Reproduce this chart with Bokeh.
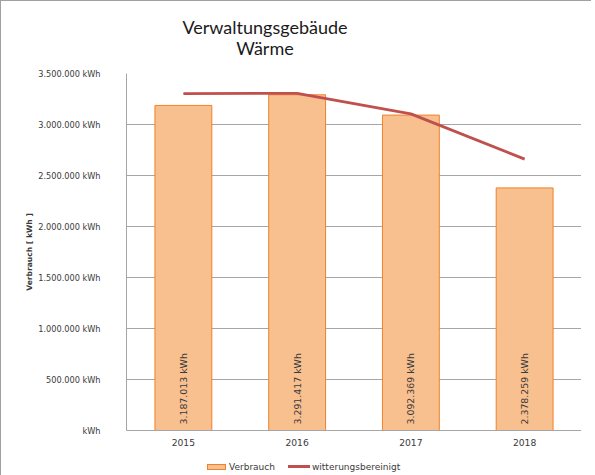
from bokeh.plotting import figure
from bokeh.models import ColumnDataSource, FixedTicker, Div
from bokeh.layouts import column
from bokeh.core.properties import value
from bokeh.embed import file_html
from bokeh.resources import INLINE
import math

title_lines = ["Verwaltungsgebäude", "Wärme"]
years = ["2015", "2016", "2017", "2018"]
verbrauch = [3187013, 3291417, 3092369, 2378259]
witterungsbereinigt = [3303000, 3306000, 3104000, 2661000]
bar_labels = ["3.187.013 kWh", "3.291.417 kWh", "3.092.369 kWh", "2.378.259 kWh"]
y_ticks = [0, 500000, 1000000, 1500000, 2000000, 2500000, 3000000, 3500000]
y_tick_labels = ["kWh", "500.000 kWh", "1.000.000 kWh", "1.500.000 kWh",
                 "2.000.000 kWh", "2.500.000 kWh", "3.000.000 kWh", "3.500.000 kWh"]
series_names = ["Verbrauch", "witterungsbereinigt"]

FONT = "DejaVu Sans"
TXT = "#3a3a3a"
BAR_FILL = "#F8BF8F"
BAR_LINE = "#F0822A"
LINE_COL = "#C0504D"
GRID = "#a6a6a6"

src = ColumnDataSource(dict(x=years, v=verbrauch, w=witterungsbereinigt, lab=bar_labels))

# title block
title_div = Div(
    text=("<div style=\"width:518px;text-align:center;font-family:Lato,sans-serif;"
          "font-size:18px;line-height:21px;color:#1a1a1a;padding-top:11px;\">"
          + "<br>".join(title_lines) + "</div>"),
    width=580, height=56)

p = figure(x_range=years, y_range=(0, 3500000), width=559, height=385,
           output_backend="svg", toolbar_location=None,
           min_border_left=0, min_border_right=0, min_border_top=6, min_border_bottom=22)
p.margin = (0, 0, 0, 21)
p.background_fill_color = "white"
p.border_fill_color = "white"
p.outline_line_color = None

p.vbar(x="x", top="v", width=0.5, source=src, fill_color=BAR_FILL,
       line_color=BAR_LINE, line_width=1)
p.line(x="x", y="w", source=src, line_color=LINE_COL, line_width=2.8)

p.text(x="x", y=0, text="lab", source=src, angle=math.pi / 2, y_offset=-6,
       text_align="left", text_baseline="middle", text_font=value(FONT),
       text_font_size="9.4px", text_color=TXT)

p.yaxis.ticker = FixedTicker(ticks=y_ticks)
p.yaxis.major_label_overrides = {t: l for t, l in zip(y_ticks, y_tick_labels)}
p.yaxis.major_tick_line_color = None
p.yaxis.minor_tick_line_color = None
p.yaxis.major_label_standoff = 20
p.yaxis.axis_line_color = GRID
p.yaxis.major_label_text_font = FONT
p.yaxis.major_label_text_font_size = "8.2px"
p.yaxis.major_label_text_color = TXT
p.yaxis.axis_label = "Verbrauch [ kWh ]"
p.yaxis.axis_label_text_font = FONT
p.yaxis.axis_label_text_font_size = "7.6px"
p.yaxis.axis_label_text_font_style = "bold"
p.yaxis.axis_label_text_color = TXT
p.yaxis.axis_label_standoff = 1

p.xaxis.major_tick_line_color = None
p.xaxis.minor_tick_line_color = None
p.xaxis.axis_line_color = GRID
p.xaxis.major_label_text_font = FONT
p.xaxis.major_label_text_font_size = "9.2px"
p.xaxis.major_label_text_color = TXT
p.xaxis.major_label_standoff = 2

p.xgrid.grid_line_color = None
p.ygrid.grid_line_color = GRID
p.ygrid.grid_line_width = 1

# legend strip
legend_html = (
    "<div style=\"padding-left:201px;padding-top:1px;line-height:14px;white-space:nowrap;"
    f"font-family:'{FONT}';font-size:9px;color:{TXT};\">"
    f"<span style=\"display:inline-block;width:19px;height:6px;background:{BAR_FILL};"
    f"border:1px solid {BAR_LINE};vertical-align:middle;\"></span>"
    f"<span style=\"margin-left:3px;vertical-align:middle;\">{series_names[0]}</span>"
    f"<span style=\"display:inline-block;width:22px;height:3px;background:{LINE_COL};"
    "margin-left:13px;vertical-align:middle;\"></span>"
    f"<span style=\"margin-left:2px;vertical-align:middle;\">{series_names[1]}</span>"
    "</div>")
legend_div = Div(text=legend_html, width=580, height=23)

layout = column(title_div, p, legend_div, spacing=0)
layout.styles = {"border-left": "1px solid #a0a0a0", "border-top": "1px solid #a0a0a0"}
open("out.html", "w").write(file_html(layout, INLINE))
